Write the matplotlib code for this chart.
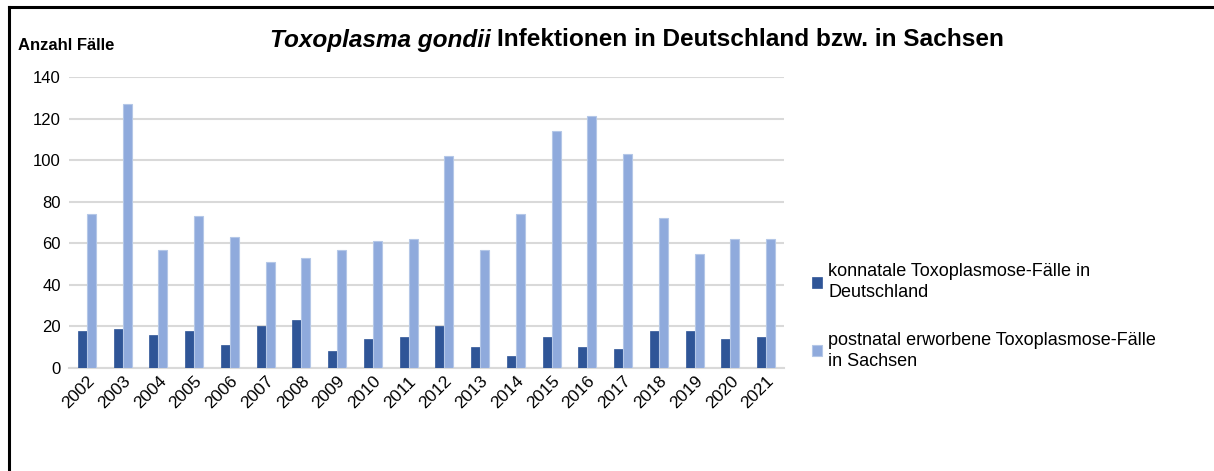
import matplotlib
matplotlib.use("Agg")
import matplotlib.pyplot as plt
import numpy as np

years = [str(y) for y in range(2002, 2022)]
konnatal = [18, 19, 16, 18, 11, 20, 23, 8, 14, 15, 20, 10, 6, 15, 10, 9, 18, 18, 14, 15]
postnatal = [74, 127, 57, 73, 63, 51, 53, 57, 61, 62, 102, 57, 74, 114, 121, 103, 72, 55, 62, 62]
labels = ["konnatale Toxoplasmose-Fälle in\nDeutschland",
          "postnatal erworbene Toxoplasmose-Fälle\nin Sachsen"]
yticks = [0, 20, 40, 60, 80, 100, 120, 140]

plt.rcParams['font.family'] = ['Liberation Sans', 'DejaVu Sans']

W, H = 1214, 471
fig = plt.figure(figsize=(W / 100, H / 100), dpi=100)
ax = fig.add_axes([69 / W, 1 - 368 / H, (784 - 69) / W, (368 - 77) / H])

x = np.arange(len(years))
bw = 0.25
b1 = ax.bar(x - bw / 2, konnatal, bw, color='#2F5597', edgecolor='#2F5597', linewidth=0.5,
            label=labels[0], zorder=3)
b2 = ax.bar(x + bw / 2, postnatal, bw, color='#8FAADC', edgecolor='#B4C7E7', linewidth=0.8,
            label=labels[1], zorder=3)

ax.set_xlim(-0.5, len(years) - 0.5)
ax.set_ylim(0, 140)
ax.set_yticks(yticks)
ax.set_yticklabels([str(v) for v in yticks], fontsize=12, color='#000000')
ax.set_xticks(x)
ax.set_xticklabels(years, rotation=45, ha='right', rotation_mode='anchor', fontsize=12.5)
ax.tick_params(axis='y', length=0, pad=6)
ax.tick_params(axis='x', length=0, pad=4)
for s in ['top', 'right', 'left']:
    ax.spines[s].set_visible(False)
ax.spines['bottom'].set_color('#D9D9D9')
ax.spines['bottom'].set_linewidth(1.5)
ax.yaxis.grid(True, color='#D9D9D9', linewidth=1.5, zorder=0)
ax.set_axisbelow(True)

fig.text(18 / W, 1 - 46 / H, "Anzahl Fälle", fontsize=12, fontweight='bold', ha='left', va='center')

title_left = fig.text(270 / W, 1 - 40 / H, "Toxoplasma gondii", fontsize=17.6, fontweight='bold',
                      fontstyle='italic', ha='left', va='center')
fig.canvas.draw()
bb = title_left.get_window_extent()
fig.text((bb.x1 + 6) / W, 1 - 40 / H, "Infektionen in Deutschland bzw. in Sachsen", fontsize=17.6,
         fontweight='bold', ha='left', va='center')

leg = fig.legend(handles=[b1, b2], labels=labels, loc='upper left',
                 bbox_to_anchor=(796 / W, 1 - 247 / H), frameon=False, fontsize=13,
                 handlelength=0.55, handleheight=0.55, handletextpad=0.35, labelspacing=1.7)
for t in leg.get_texts():
    t.set_linespacing(1.3)

# border (left and top)
fig.lines.append(plt.Line2D([9 / W, 1], [1 - 7 / H, 1 - 7 / H], transform=fig.transFigure,
                            color='black', linewidth=2.2))
fig.lines.append(plt.Line2D([9 / W, 9 / W], [0, 1 - 7 / H], transform=fig.transFigure,
                            color='black', linewidth=2.2))

fig.savefig("out.png", dpi=100, facecolor='white')
